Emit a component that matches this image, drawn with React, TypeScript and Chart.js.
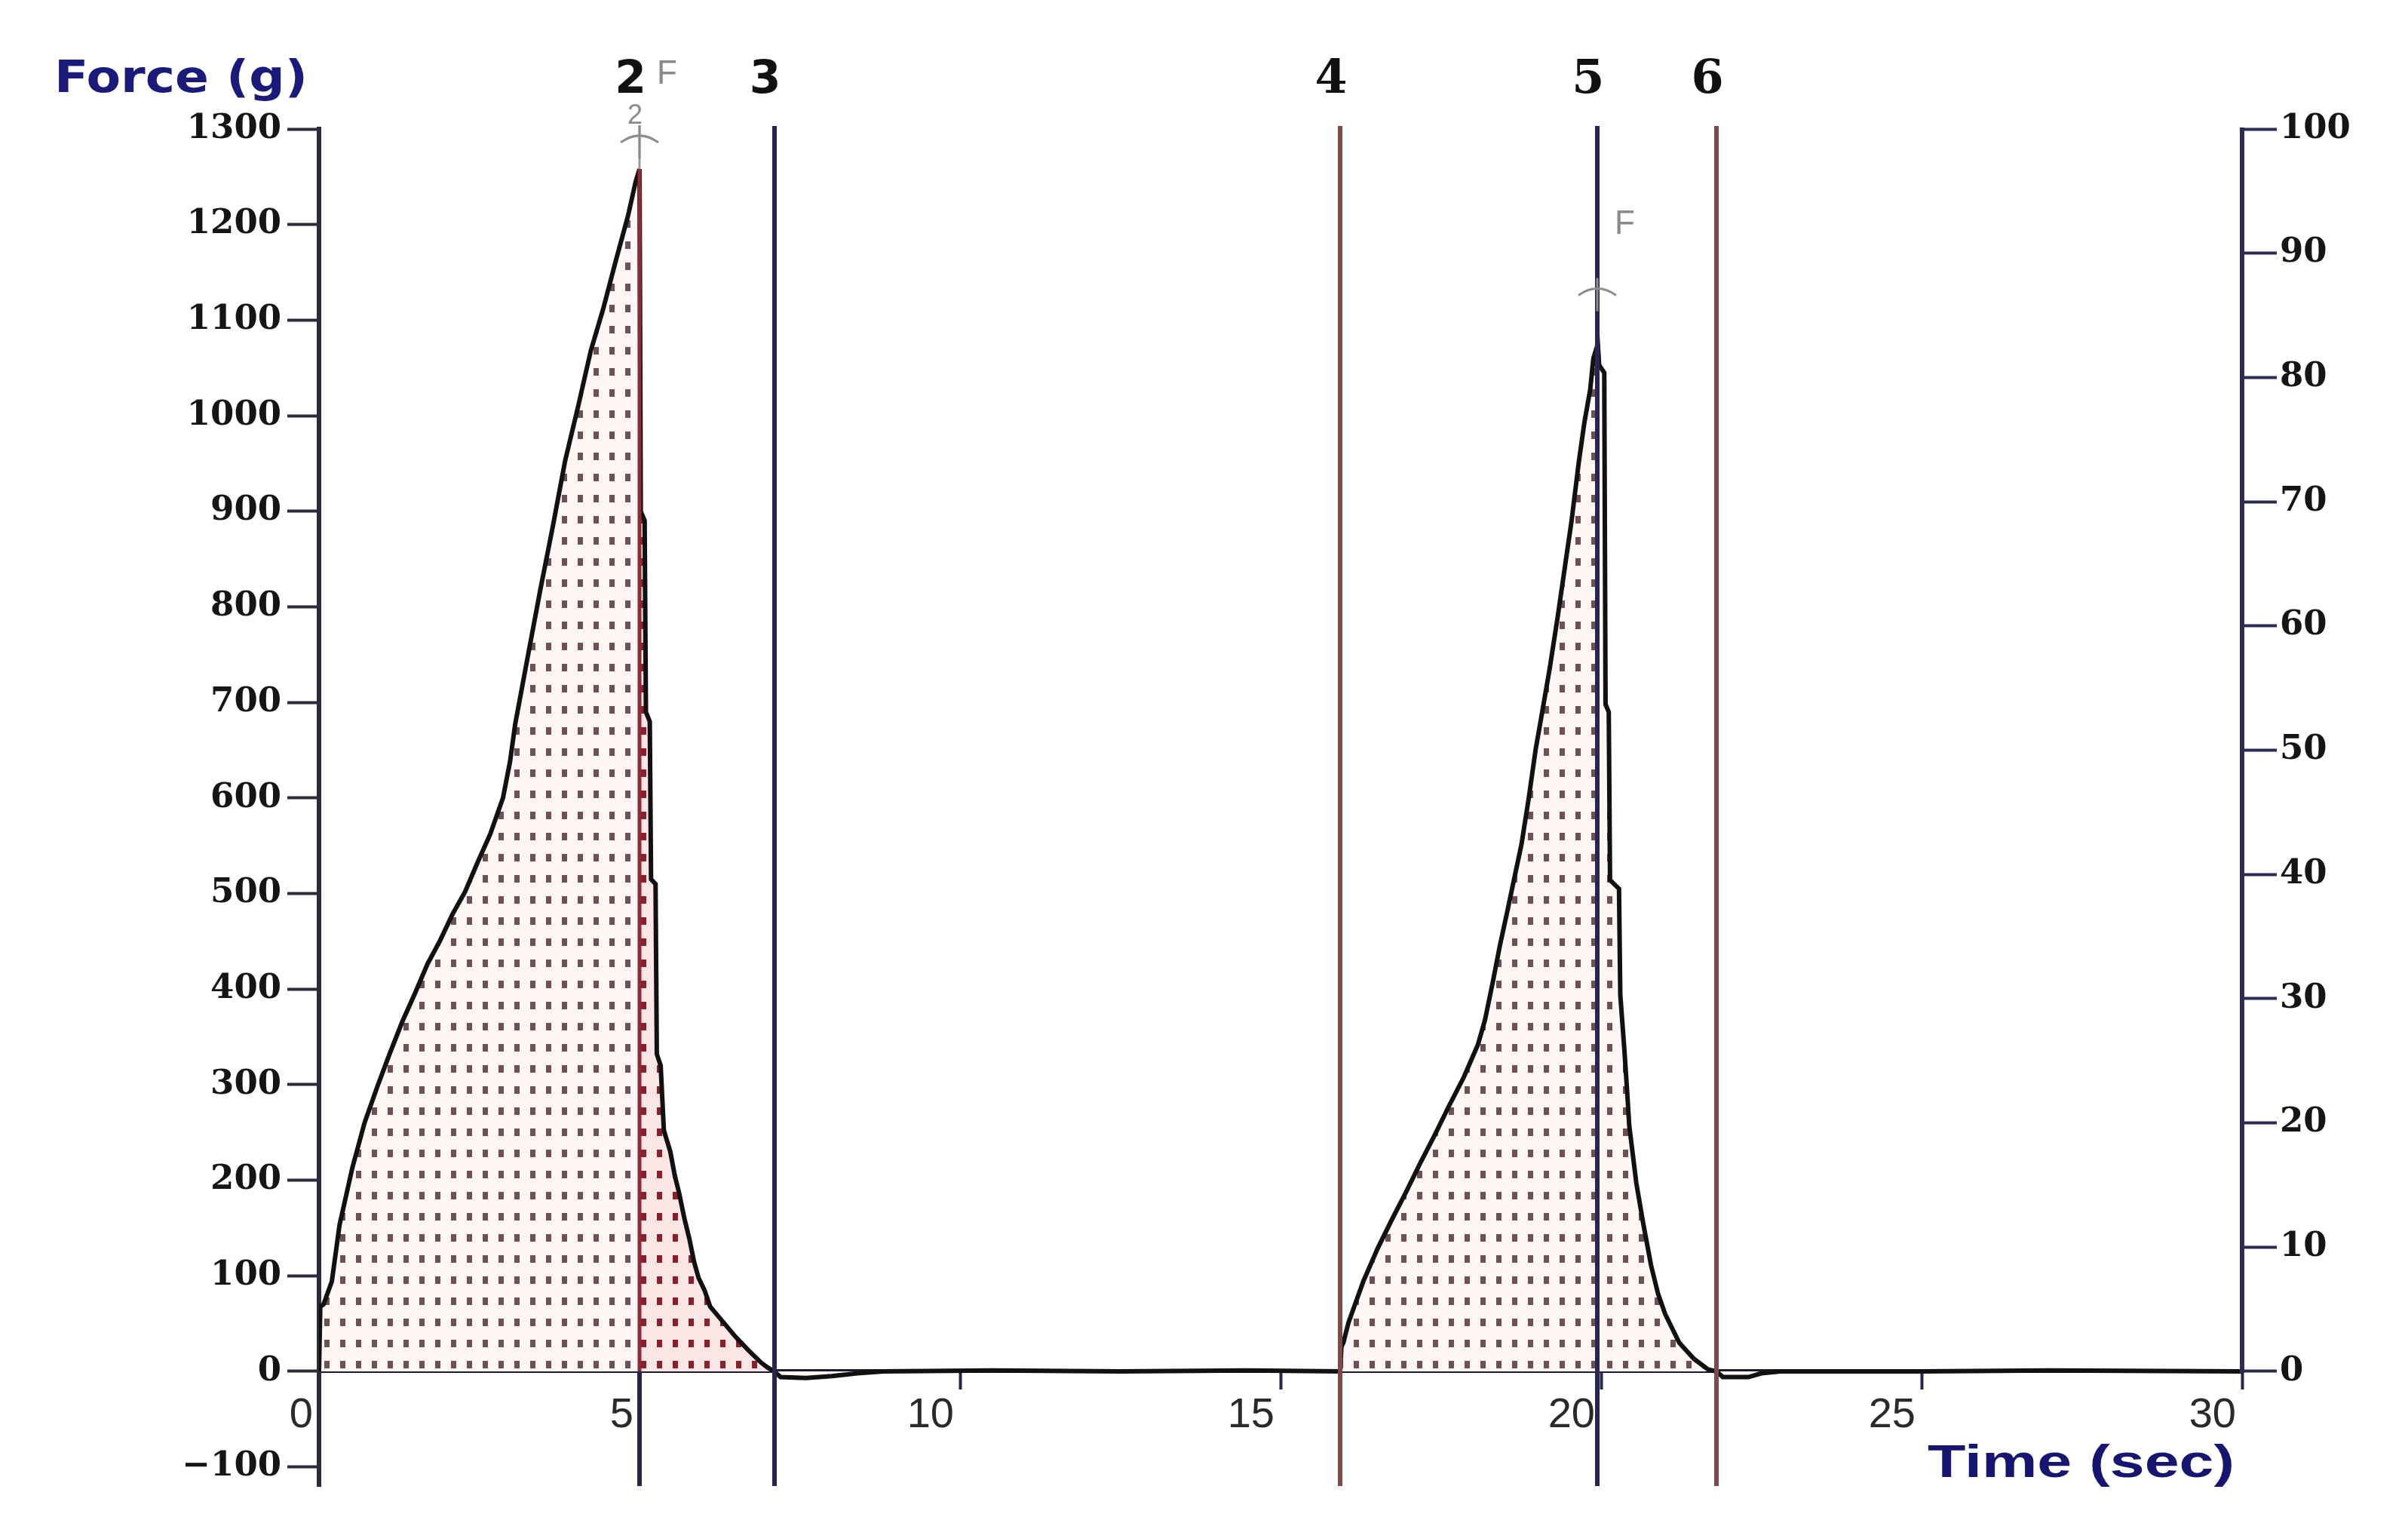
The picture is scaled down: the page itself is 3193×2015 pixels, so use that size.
import React, { useEffect, useRef } from 'react';
import { Chart, registerables } from 'chart.js';

Chart.register(...registerables);

const W = 3193;
const H = 2015;

// ---- data ----
const timeSec = [
  0, 0.02, 0.07, 0.2, 0.32, 0.52, 0.71, 0.91, 1.1, 1.3, 1.5, 1.69, 1.89, 2.08, 2.28, 2.47, 2.67, 2.87, 2.98, 3.06,
  3.26, 3.45, 3.65, 3.84, 4.04, 4.24, 4.43, 4.63, 4.82, 4.94, 5.0, 5.02, 5.08, 5.1, 5.16, 5.18, 5.25, 5.27, 5.33,
  5.38, 5.48, 5.55, 5.62, 5.7, 5.78, 5.85, 5.92, 6.02, 6.1, 6.3, 6.5, 6.7, 6.9, 7.0, 7.1, 7.2, 7.6, 8.0, 8.4, 8.8,
  10.5, 12.5, 14.5, 15.93, 15.95, 15.98, 16.06, 16.29, 16.51, 16.73, 16.96, 17.18, 17.41, 17.63, 17.86, 18.08,
  18.19, 18.31, 18.42, 18.53, 18.64, 18.76, 18.87, 18.98, 19.09, 19.2, 19.32, 19.43, 19.54, 19.65, 19.74, 19.83,
  19.88, 19.95, 19.97, 20.05, 20.07, 20.12, 20.14, 20.28, 20.3, 20.36, 20.4, 20.44, 20.55, 20.66, 20.78, 20.89,
  21.0, 21.22, 21.45, 21.67, 21.8, 21.9, 22.3, 22.5, 22.8, 25.0, 27.0, 30.0,
];
const forceG = [
  0, 68, 70, 94, 153, 213, 260, 298, 332, 366, 396, 426, 451, 478, 502, 532, 562, 600, 638, 677,
  749, 817, 885, 953, 1009, 1068, 1111, 1162, 1209, 1245, 1258, 900, 890, 690, 680, 515, 510, 332, 320,
  252, 230, 205, 186, 160, 138, 115, 98, 84, 68, 52, 36, 22, 9, 4, 0, -6, -7, -5, -2, 0,
  1, 0, 1, 0, 26, 30, 51, 94, 128, 158, 188, 218, 248, 278, 308, 342,
  368, 407, 445, 479, 514, 552, 599, 651, 693, 736, 788, 839, 890, 950, 993, 1027,
  1060, 1075, 1053, 1045, 698, 690, 514, 505, 394, 340, 300, 257, 197, 154, 111, 81,
  60, 30, 13, 2, 0, -6, -6, -2, 0, 0, 1, 0,
];

const xTickValues = [0, 5, 10, 15, 20, 25, 30];
const yTickValues = [-100, 0, 100, 200, 300, 400, 500, 600, 700, 800, 900, 1000, 1100, 1200, 1300];
const rightTickValues = [0, 10, 20, 30, 40, 50, 60, 70, 80, 90, 100];

const markerIds = ['2', '3', '4', '5', '6'];
const markerTimes = [5.0, 7.1, 15.93, 19.94, 21.8];
const markerColors = ['#26264e', '#26264e', '#7e4a4a', '#26264e', '#7e4a4a'];
const markerFonts = [
  'bold 60px "DejaVu Sans"',
  'bold 60px "DejaVu Sans"',
  'bold 62px "DejaVu Serif"',
  'bold 62px "DejaVu Serif"',
  'bold 62px "DejaVu Serif"',
];

const peakMarkTimes = [5.0, 19.94];
const peakMarkForce = [1293, 1133];
const peakFLabelForce = [1347, 1190];

const highlightStart = 5.0;
const highlightEnd = 7.1;

const Y_MIN = -120;
const Y_MAX = 1300;
const RIGHT_MAX = 100;

const xTitle = 'Time (sec)';
const yTitle = 'Force (g)';

function makePattern(ctx: CanvasRenderingContext2D, bg: string, dot: string) {
  const tile = document.createElement('canvas');
  tile.width = 21;
  tile.height = 28;
  const g = tile.getContext('2d')!;
  g.fillStyle = bg;
  g.fillRect(0, 0, 21, 28);
  g.fillStyle = dot;
  g.fillRect(7, 9, 7, 10);
  const p = ctx.createPattern(tile, 'repeat')!;
  try {
    p.setTransform(new DOMMatrix([1, 0, 0, 1, 3, 3]));
  } catch (e) {
    /* ignore */
  }
  return p;
}

function vline(ctx: CanvasRenderingContext2D, x: number, y1: number, y2: number, color: string, w: number) {
  ctx.save();
  ctx.strokeStyle = color;
  ctx.lineWidth = w;
  ctx.beginPath();
  ctx.moveTo(x, y1);
  ctx.lineTo(x, y2);
  ctx.stroke();
  ctx.restore();
}

function stretchedText(
  ctx: CanvasRenderingContext2D,
  text: string,
  font: string,
  color: string,
  left: number,
  baseline: number,
  targetWidth: number
) {
  ctx.save();
  ctx.font = font;
  ctx.fillStyle = color;
  ctx.textAlign = 'left';
  ctx.textBaseline = 'alphabetic';
  const m = ctx.measureText(text).width;
  const sx = targetWidth / m;
  ctx.translate(left, baseline);
  ctx.scale(sx, 1);
  ctx.fillText(text, 0, 0);
  ctx.restore();
}

const annotationPlugin = {
  id: 'forceAnnotations',
  afterDatasetsDraw(chart: any) {
    const ctx: CanvasRenderingContext2D = chart.ctx;
    const xs = chart.scales.x;
    const ys = chart.scales.y;
    const area = chart.chartArea;
    const y0 = ys.getPixelForValue(0);
    const peak1 = Math.max(...forceG.filter((_, i) => timeSec[i] < 10));

    // right axis line (only from 0 up to the top)
    const yr = chart.scales.yRight;
    vline(ctx, area.right, yr.getPixelForValue(0) + 2, yr.getPixelForValue(RIGHT_MAX) - 2, '#2b2b55', 6);

    // marker lines
    markerTimes.forEach((t, i) => {
      const px = Math.round(xs.getPixelForValue(t));
      if (i === 0) {
        vline(ctx, px, y0, area.bottom, markerColors[i], 6);
        vline(ctx, px, y0, ys.getPixelForValue(peak1), '#8e2a38', 5);
        vline(ctx, px, ys.getPixelForValue(peak1), area.top - 4, '#9a9a9a', 3);
      } else {
        vline(ctx, px, area.top - 4, area.bottom, markerColors[i], 6);
      }
    });

    // peak markers (grey arcs + F labels)
    peakMarkTimes.forEach((t, i) => {
      const cx = Math.round(xs.getPixelForValue(t));
      const cy = ys.getPixelForValue(peakMarkForce[i]);
      ctx.save();
      ctx.strokeStyle = '#8c8c8c';
      ctx.lineWidth = 3;
      ctx.beginPath();
      ctx.moveTo(cx - 25, cy + 9);
      ctx.quadraticCurveTo(cx, cy - 9, cx + 25, cy + 9);
      ctx.stroke();
      ctx.beginPath();
      ctx.moveTo(cx, cy - 14);
      ctx.lineTo(cx, cy + 30);
      ctx.stroke();
      ctx.fillStyle = '#8a8a8a';
      ctx.font = '44px "Liberation Sans"';
      ctx.textAlign = 'left';
      ctx.textBaseline = 'alphabetic';
      ctx.fillText('F', cx + 23, ys.getPixelForValue(peakFLabelForce[i]));
      if (i === 0) {
        ctx.font = '36px "Liberation Sans"';
        ctx.textAlign = 'center';
        ctx.fillText('2', cx - 6, cy - 16);
      }
      ctx.restore();
    });

    // marker numbers
    markerIds.forEach((id, i) => {
      const px = xs.getPixelForValue(markerTimes[i]);
      ctx.save();
      ctx.font = markerFonts[i];
      ctx.fillStyle = '#111111';
      ctx.textAlign = 'center';
      ctx.textBaseline = 'alphabetic';
      ctx.fillText(id, px - 12, 123);
      ctx.restore();
    });
  },
  afterDraw(chart: any) {
    const ctx: CanvasRenderingContext2D = chart.ctx;
    stretchedText(ctx, yTitle, 'bold 58px "DejaVu Sans"', '#1a1a7a', 72, 122, 336);
    stretchedText(ctx, xTitle, 'bold 62px "Liberation Sans"', '#161670', 2556, 1958, 407);
  },
};

const fmt = (v: number) => (v < 0 ? '\u2212' + String(-v) : String(v));

export default function App() {
  const ref = useRef<HTMLCanvasElement>(null);

  useEffect(() => {
    const canvas = ref.current!;
    const ctx = canvas.getContext('2d')!;
    const normalPattern = makePattern(ctx, '#fff6f6', '#6f4f58');
    const redPattern = makePattern(ctx, '#fbe6e6', '#8a1f2a');

    const points = timeSec.map((t, i) => ({ x: t, y: forceG[i] }));

    const chart = new Chart(canvas, {
      type: 'line',
      data: {
        datasets: [
          {
            label: 'Force',
            data: points,
            borderColor: '#111111',
            borderWidth: 6,
            pointRadius: 0,
            tension: 0,
            fill: 'origin',
            backgroundColor: normalPattern,
            borderJoinStyle: 'miter',
            segment: {
              backgroundColor: (c: any) =>
                timeSec[c.p0DataIndex] >= highlightStart && timeSec[c.p1DataIndex] <= highlightEnd + 1e-6
                  ? redPattern
                  : undefined,
            },
          } as any,
        ],
      },
      options: {
        responsive: false,
        animation: false,
        devicePixelRatio: 1,
        layout: { padding: { top: 171, bottom: 45, left: 0, right: 0 } },
        plugins: {
          legend: { display: false },
          tooltip: { enabled: false },
          title: { display: false },
        },
        scales: {
          x: {
            type: 'linear',
            min: 0,
            max: 30,
            position: { y: 0 } as any,
            afterBuildTicks: (s: any) => {
              s.ticks = xTickValues.map((v) => ({ value: v }));
            },
            grid: {
              drawOnChartArea: false,
              drawTicks: true,
              tickLength: 22,
              tickColor: '#26264e',
              tickWidth: 4,
            },
            border: { display: true, color: '#1c1c30', width: 5 },
            ticks: {
              align: 'end',
              labelOffset: -8,
              padding: 3,
              autoSkip: false,
              maxRotation: 0,
              color: '#2a2a2a',
              font: { family: '"Liberation Sans"', size: 56, weight: 'normal' },
              callback: (v: any) => fmt(Number(v)),
            },
          },
          y: {
            type: 'linear',
            position: 'left',
            min: Y_MIN,
            max: Y_MAX,
            afterBuildTicks: (s: any) => {
              s.ticks = yTickValues.map((v) => ({ value: v }));
            },
            afterFit: (s: any) => {
              s.width = 423;
            },
            grid: {
              drawOnChartArea: false,
              drawTicks: true,
              tickLength: 42,
              tickColor: '#2b2b3b',
              tickWidth: 4,
            },
            border: { display: true, color: '#2b2b3b', width: 6 },
            ticks: {
              padding: 8,
              color: '#151515',
              font: { family: '"DejaVu Serif"', size: 45, weight: 'bold' },
              callback: (v: any) => fmt(Number(v)),
            },
          },
          yRight: {
            type: 'linear',
            position: 'right',
            min: (Y_MIN / Y_MAX) * RIGHT_MAX,
            max: RIGHT_MAX,
            afterBuildTicks: (s: any) => {
              s.ticks = rightTickValues.map((v) => ({ value: v }));
            },
            afterFit: (s: any) => {
              s.width = 220;
            },
            grid: {
              drawOnChartArea: false,
              drawTicks: true,
              tickLength: 46,
              tickColor: '#2b2b55',
              tickWidth: 4,
            },
            border: { display: false },
            ticks: {
              padding: 4,
              color: '#151515',
              font: { family: '"DejaVu Serif"', size: 45, weight: 'bold' },
              callback: (v: any) => fmt(Number(v)),
            },
          },
        },
      } as any,
      plugins: [annotationPlugin as any],
    });

    return () => chart.destroy();
  }, []);

  return (
    <div style={{ position: 'absolute', left: 0, top: 0, width: W, height: H, background: '#ffffff' }}>
      <canvas ref={ref} width={W} height={H} style={{ display: 'block', width: W, height: H }} />
    </div>
  );
}
